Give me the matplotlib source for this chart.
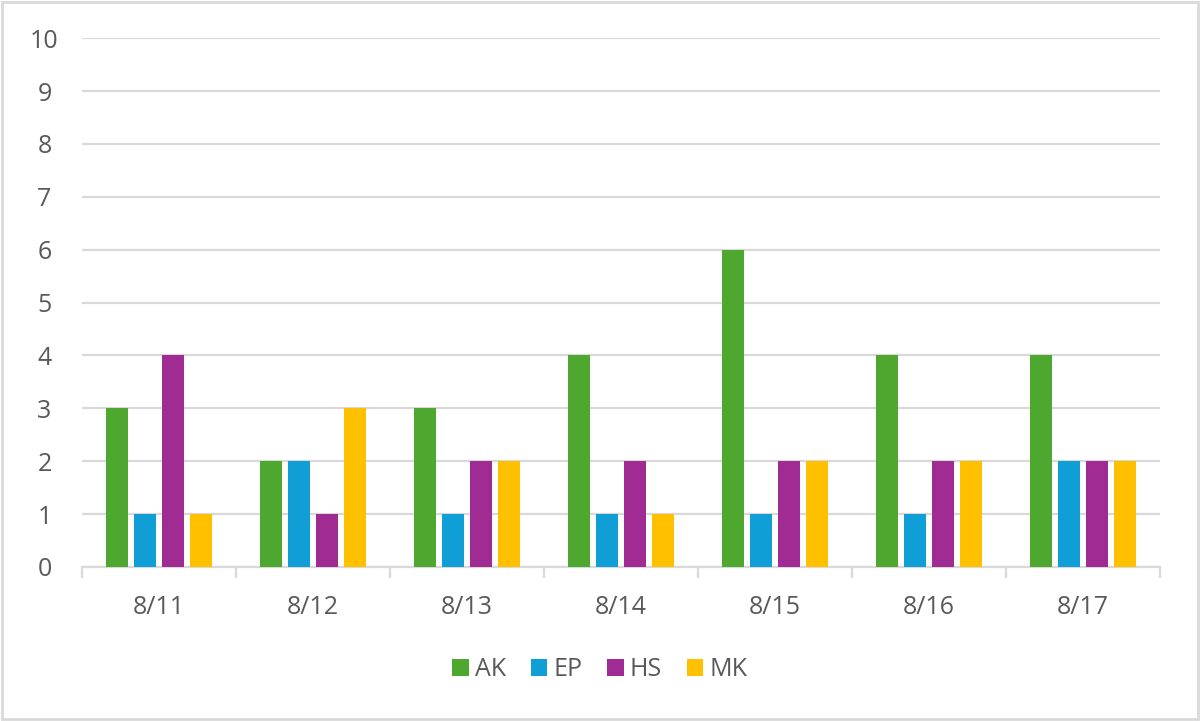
import numpy as np
import matplotlib.pyplot as plt
from matplotlib.patches import Rectangle

plt.rcParams['font.family'] = ['Open Sans', 'DejaVu Sans']

#data
dates = ['8/11', '8/12', '8/13', '8/14', '8/15', '8/16', '8/17']
names = ['AK', 'EP', 'HS', 'MK']
ak = [3, 2, 3, 4, 6, 4, 4]
ep = [1, 2, 1, 1, 1, 1, 2]
hs = [4, 1, 2, 2, 2, 2, 2]
mk = [1, 3, 2, 1, 2, 2, 2]
colors = ['#4EA72E', '#0F9ED5', '#A02B93', '#FFC000']

grey = '#595959'
grid_c = '#D9D9D9'

fig = plt.figure(figsize=(12, 7.21), dpi=100)
ax = fig.add_axes([0.0683, 0.2136, 0.8984, 0.7334])

x = np.arange(len(dates))
slot = 0.182
bw = 0.14
for i, (vals, name) in enumerate(zip([ak, ep, hs, mk], names)):
    ax.bar(x + (i - 1.5) * slot, vals, bw, color=colors[i], label=name, zorder=3)

ax.set_xlim(-0.5, len(dates) - 0.5)
ax.set_ylim(0, 10)
ax.set_yticks(range(0, 11))
ax.yaxis.grid(True, color=grid_c, linewidth=1.6, zorder=0)
ax.set_axisbelow(True)

ax.set_xticks(x)
ax.set_xticklabels(dates)
ax.set_xticks(np.arange(-0.5, len(dates)), minor=True)
ax.tick_params(axis='x', which='major', length=0, pad=20, labelsize=18, labelcolor=grey)
ax.tick_params(axis='x', which='minor', length=8, width=1.6, color=grid_c)
ax.tick_params(axis='y', length=0, pad=27, labelsize=18, labelcolor=grey)
for lab in ax.get_yticklabels():
    lab.set_horizontalalignment('center')

for s in ['top', 'right', 'left']:
    ax.spines[s].set_visible(False)
ax.spines['bottom'].set_color(grid_c)
ax.spines['bottom'].set_linewidth(1.6)

leg = fig.legend(loc='center', bbox_to_anchor=(0.5, 1 - 670 / 721), ncol=4, frameon=False,
                 fontsize=18, handlelength=0.65, handleheight=0.65, handletextpad=0.25,
                 columnspacing=1.0)
for t in leg.get_texts():
    t.set_color(grey)

fig.patches.append(Rectangle((0.002, 0.003), 0.996, 0.994, transform=fig.transFigure,
                             fill=False, edgecolor=grid_c, linewidth=2))

fig.savefig('out.png', dpi=100)
